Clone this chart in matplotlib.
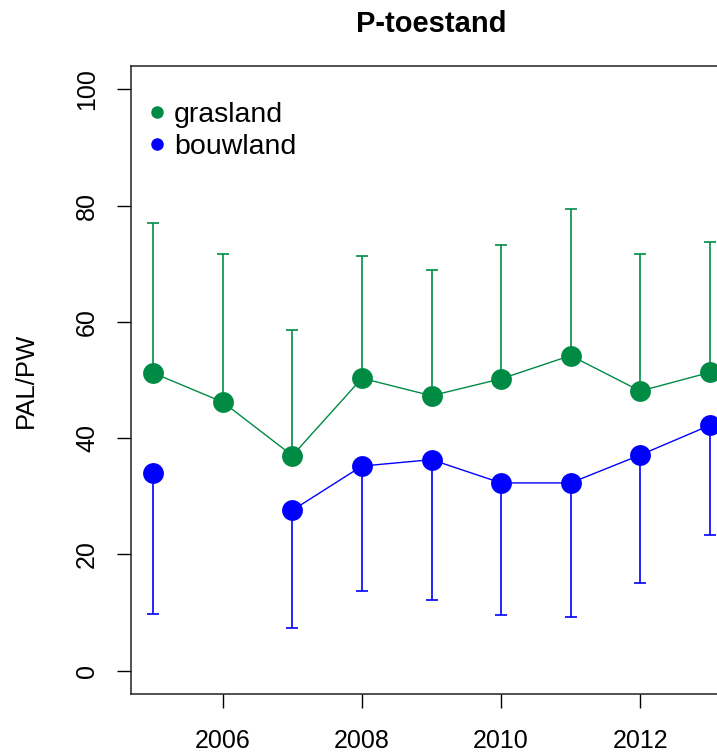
import matplotlib
matplotlib.use("Agg")
import matplotlib.pyplot as plt
from matplotlib.lines import Line2D
import numpy as np

plt.rcParams['font.family'] = ['Liberation Sans', 'DejaVu Sans']

# jaren en P-toestand (PAL/PW)
years = [2005, 2006, 2007, 2008, 2009, 2010, 2011, 2012, 2013]
gras_mean = [51.2, 46.2, 37.0, 50.3, 47.3, 50.2, 54.2, 48.1, 51.3]
gras_upper = [77.0, 71.6, 58.6, 71.4, 69.0, 73.3, 79.4, 71.6, 73.8]
bouw_mean = [34.0, np.nan, 27.6, 35.2, 36.3, 32.3, 32.3, 37.1, 42.2]
bouw_lower = [9.7, np.nan, 7.4, 13.7, 12.1, 9.5, 9.2, 15.1, 23.3]

green = "#008B45"
blue = "#0000FF"

fig = plt.figure(figsize=(7.17, 7.53), dpi=100)
ax = fig.add_axes([131 / 717, 1 - 694 / 753, 601 / 717, 628 / 753])

gm = np.array(gras_mean)
gu = np.array(gras_upper)
bm = np.array(bouw_mean)
bl = np.array(bouw_lower)

# eenzijdige foutbalken: grasland omhoog, bouwland omlaag
ax.errorbar(years, gm, yerr=[np.zeros_like(gm), gu - gm], fmt='none',
            ecolor=green, elinewidth=1.2, capsize=4.5, capthick=1.2, zorder=2)
ax.errorbar(years, bm, yerr=[bm - bl, np.zeros_like(bm)], fmt='none',
            ecolor=blue, elinewidth=1.2, capsize=4.5, capthick=1.2, zorder=2)

ax.plot(years, gm, color=green, lw=1.0, marker='o', markersize=15,
        markeredgewidth=0, zorder=3)
ax.plot(years, bm, color=blue, lw=1.0, marker='o', markersize=15,
        markeredgewidth=0, zorder=3)

ax.set_xlim(2004.68, 2013.32)
ax.set_ylim(-4, 104)
ax.set_xticks([2006, 2008, 2010, 2012])
ax.set_yticks([0, 20, 40, 60, 80, 100])

ax.tick_params(direction='out', length=10, width=1, labelsize=18, pad=15)
ax.tick_params(axis='y', labelrotation=90, pad=13)
for lab in ax.get_yticklabels():
    lab.set_va('center')

for sp in ax.spines.values():
    sp.set_linewidth(1.1)
    sp.set_color('#222222')

ax.set_ylabel("PAL/PW", fontsize=18.5, labelpad=27)

fig.text(431 / 717, 1 - 24 / 753, "P-toestand", ha='center', va='center',
         fontsize=21, fontweight='bold')

handles = [Line2D([], [], color=green, marker='o', linestyle='none', markersize=8),
           Line2D([], [], color=blue, marker='o', linestyle='none', markersize=8)]
ax.legend(handles, ["grasland", "bouwland"], loc='upper left', frameon=False,
          fontsize=20.5, handlelength=0.6, handletextpad=0.3, labelspacing=0.22,
          borderaxespad=0, borderpad=0, bbox_to_anchor=(0.029, 0.9425))

fig.savefig("out.png", dpi=100)
